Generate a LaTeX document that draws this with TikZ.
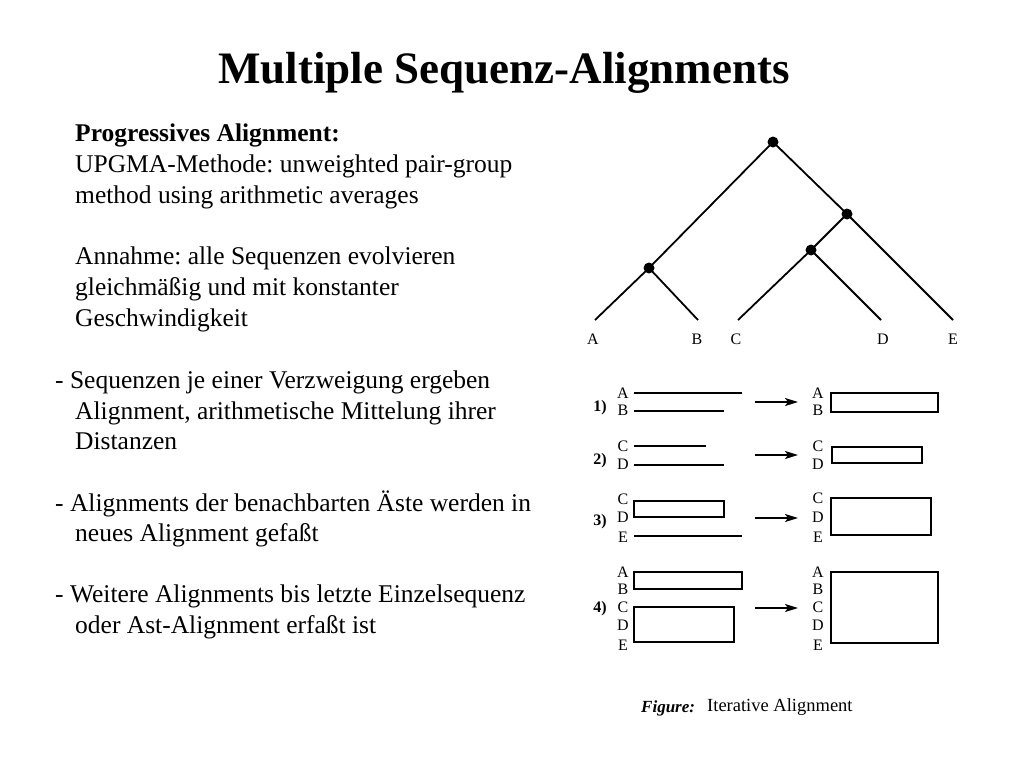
\documentclass[tikz,border=0pt]{standalone}
\usepackage{fontspec}
\setmainfont{Liberation Serif}
\usetikzlibrary{arrows.meta}
\frenchspacing
\begin{document}
\begin{tikzpicture}[x=1pt,y=-1pt,
  body/.style={anchor=base west,inner sep=0pt,font=\fontsize{25.5}{31}\selectfont},
  lbl/.style={inner sep=0pt,font=\fontsize{16}{18}\selectfont},
  num/.style={inner sep=0pt,font=\bfseries\fontsize{16}{18}\selectfont},
  dot/.style={circle,fill=black,inner sep=0pt,minimum size=11pt},
  branch/.style={line width=1.8pt},
  seq/.style={line width=1.7pt},
  blk/.style={line width=1.7pt},
  arr/.style={line width=1.7pt,-{Stealth[length=13pt,width=8pt,inset=3pt]}}
]
\useasboundingbox (0,0) rectangle (1024,768);
% title
\node[anchor=base,inner sep=0pt,font=\bfseries\fontsize{45}{50}\selectfont] (title) at (504,83) {Multiple Sequenz-Alignments};
% left text
\node[body,font=\bfseries\fontsize{25.5}{31}\selectfont] (t1) at (75,141) {Progressives Alignment:};
\node[body] (t2) at (75,172) {UPGMA-Methode: unweighted pair-group};
\node[body] (t3) at (75,203) {method using arithmetic averages};
\node[body] (t4) at (75,264) {Annahme: alle Sequenzen evolvieren};
\node[body] (t5) at (75,295) {gleichmäßig und mit konstanter};
\node[body] (t6) at (75,326) {Geschwindigkeit};
\node[body] (t7) at (55,388) {- Sequenzen je einer Verzweigung ergeben};
\node[body] (t8) at (75,419) {Alignment, arithmetische Mittelung ihrer};
\node[body] (t9) at (75,449) {Distanzen};
\node[body] (t10) at (55,511) {- Alignments der benachbarten Äste werden in};
\node[body] (t11) at (75,541) {neues Alignment gefaßt};
\node[body] (t12) at (55,602) {- Weitere Alignments bis letzte Einzelsequenz};
\node[body] (t13) at (75,633) {oder Ast-Alignment erfaßt ist};
% tree
\node[dot] (r) at (773,142) {};
\node[dot] (n2) at (847,214) {};
\node[dot] (n3) at (811,250) {};
\node[dot] (n1) at (649,268) {};
\coordinate (la) at (595,320);
\coordinate (lb) at (698,320);
\coordinate (lc) at (738,320);
\coordinate (ld) at (881,320);
\coordinate (le) at (953,320);
\draw[branch] (r.center) -- (n1.center);
\draw[branch] (r.center) -- (n2.center);
\draw[branch] (n2.center) -- (n3.center);
\draw[branch] (n2.center) -- (le);
\draw[branch] (n3.center) -- (lc);
\draw[branch] (n3.center) -- (ld);
\draw[branch] (n1.center) -- (la);
\draw[branch] (n1.center) -- (lb);
\node[lbl] (ta) at (593,339) {A};
\node[lbl] (tb) at (697,339) {B};
\node[lbl] (tc) at (736,339) {C};
\node[lbl] (td) at (883,339) {D};
\node[lbl] (te) at (953,339) {E};
% step 1
\node[num] (s1) at (600,408) {1)};
\node[lbl] (a1) at (623,393) {A};
\node[lbl] (b1) at (623,410) {B};
\draw[seq] (634,393) -- (742,393);
\draw[seq] (634,411) -- (724,411);
\coordinate (p1s) at (755,402); \coordinate (p1e) at (798,402);
\draw[arr] (p1s) -- (p1e);
\node[lbl] (a1r) at (818,393) {A};
\node[lbl] (b1r) at (818,410) {B};
\draw[blk] (831,393) rectangle (938,412);
% step 2
\node[num] (s2) at (600,461) {2)};
\node[lbl] (c2) at (623,446) {C};
\node[lbl] (d2) at (623,464) {D};
\draw[seq] (634,446) -- (706,446);
\draw[seq] (634,465) -- (724,465);
\coordinate (p2s) at (755,455); \coordinate (p2e) at (798,455);
\draw[arr] (p2s) -- (p2e);
\node[lbl] (c2r) at (818,446) {C};
\node[lbl] (d2r) at (818,464) {D};
\draw[blk] (832,447) rectangle (922,463);
% step 3
\node[num] (s3) at (600,522) {3)};
\node[lbl] (c3) at (623,499) {C};
\node[lbl] (d3) at (623,517) {D};
\node[lbl] (e3) at (623,537) {E};
\draw[blk] (634,501) rectangle (724,517);
\draw[seq] (634,536) -- (742,536);
\coordinate (p3s) at (755,518); \coordinate (p3e) at (798,518);
\draw[arr] (p3s) -- (p3e);
\node[lbl] (c3r) at (818,498) {C};
\node[lbl] (d3r) at (818,517) {D};
\node[lbl] (e3r) at (818,537) {E};
\draw[blk] (831,498) rectangle (931,535);
% step 4
\node[num] (s4) at (600,609) {4)};
\node[lbl] (a4) at (623,572) {A};
\node[lbl] (b4) at (623,589) {B};
\node[lbl] (c4) at (623,607) {C};
\node[lbl] (d4) at (623,625) {D};
\node[lbl] (e4) at (623,645) {E};
\draw[blk] (634,572) rectangle (742,589);
\draw[blk] (634,607) rectangle (734,642);
\coordinate (p4s) at (755,608); \coordinate (p4e) at (798,608);
\draw[arr] (p4s) -- (p4e);
\node[lbl] (a4r) at (818,572) {A};
\node[lbl] (b4r) at (818,589) {B};
\node[lbl] (c4r) at (818,607) {C};
\node[lbl] (d4r) at (818,625) {D};
\node[lbl] (e4r) at (818,645) {E};
\draw[blk] (831,572) rectangle (938,643);
% caption
\node[anchor=base west,inner sep=0pt,font=\bfseries\itshape\fontsize{17}{20}\selectfont] (fig) at (641,712) {Figure:};
\node[anchor=base west,inner sep=0pt,font=\fontsize{18.5}{20}\selectfont] (cap) at (707,711) {Iterative Alignment};
\end{tikzpicture}
\end{document}
